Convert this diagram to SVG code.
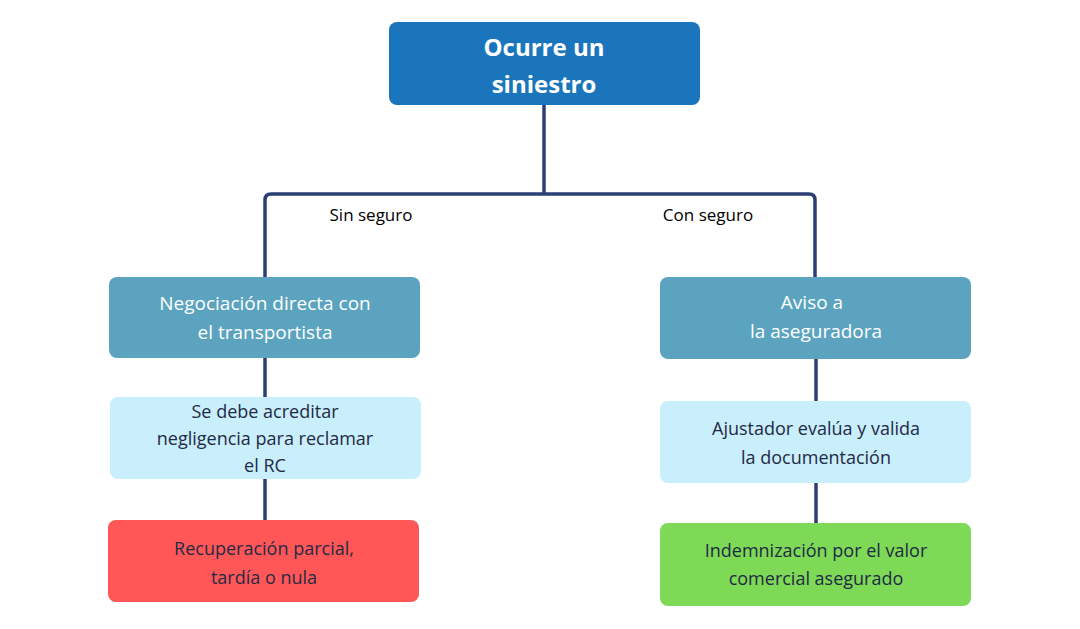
<svg xmlns="http://www.w3.org/2000/svg" width="1080" height="629" viewBox="0 0 1080 629">
<style>
.t{font-family:"Open Sans","Liberation Sans",sans-serif;text-anchor:middle;dominant-baseline:central}
.w{fill:#fff;font-size:19px}
.d{fill:#1f2a44;font-size:18px}
.c{fill:none;stroke:#2b3f75;stroke-width:3.5}
</style>
<rect width="1080" height="629" fill="#fff"/>
<g id="connectors">
<path class="c" d="M544 105V194M265 277V200Q265 194 271 194H809Q815 194 815 200V277"/>
<path class="c" d="M265 358V397M265 479V520M816 359V401M816 483V523"/>
<text class="t" x="371" y="214" font-size="17" fill="#000">Sin seguro</text>
<text class="t" x="708" y="214" font-size="17" fill="#000">Con seguro</text>
</g>
<g id="root"><rect x="389" y="22" width="311" height="83" rx="8" fill="#1b75bc"/>
<text class="t" x="544" y="46" fill="#fff" font-size="24" font-weight="bold">Ocurre un</text>
<text class="t" x="544" y="83" fill="#fff" font-size="24" font-weight="bold">siniestro</text></g>
<g id="l1"><rect x="109" y="277" width="311" height="81" rx="8" fill="#5ba3bf"/>
<text class="t w" x="265" y="303">Negociación directa con</text><text class="t w" x="265" y="332">el transportista</text></g>
<g id="l2"><rect x="110" y="397" width="311" height="82" rx="8" fill="#c9eefc"/>
<text class="t d" x="265" y="411">Se debe acreditar</text><text class="t d" x="265" y="438">negligencia para reclamar</text><text class="t d" x="265" y="465">el RC</text></g>
<g id="l3"><rect x="108" y="520" width="311" height="82" rx="8" fill="#ff5757"/>
<text class="t d" x="264" y="548" font-size="19">Recuperación parcial,</text><text class="t d" x="264" y="577" font-size="19">tardía o nula</text></g>
<g id="r1"><rect x="660" y="277" width="311" height="82" rx="8" fill="#5ba3bf"/>
<text class="t w" x="812" y="302">Aviso a</text><text class="t w" x="816" y="331">la aseguradora</text></g>
<g id="r2"><rect x="660" y="401" width="311" height="82" rx="8" fill="#c9eefc"/>
<text class="t d" x="816" y="428" font-size="19">Ajustador evalúa y valida</text><text class="t d" x="816" y="457" font-size="19">la documentación</text></g>
<g id="r3"><rect x="660" y="523" width="311" height="83" rx="8" fill="#7ed957"/>
<text class="t d" x="816" y="550">Indemnización por el valor</text><text class="t d" x="816" y="578">comercial asegurado</text></g>
</svg>
